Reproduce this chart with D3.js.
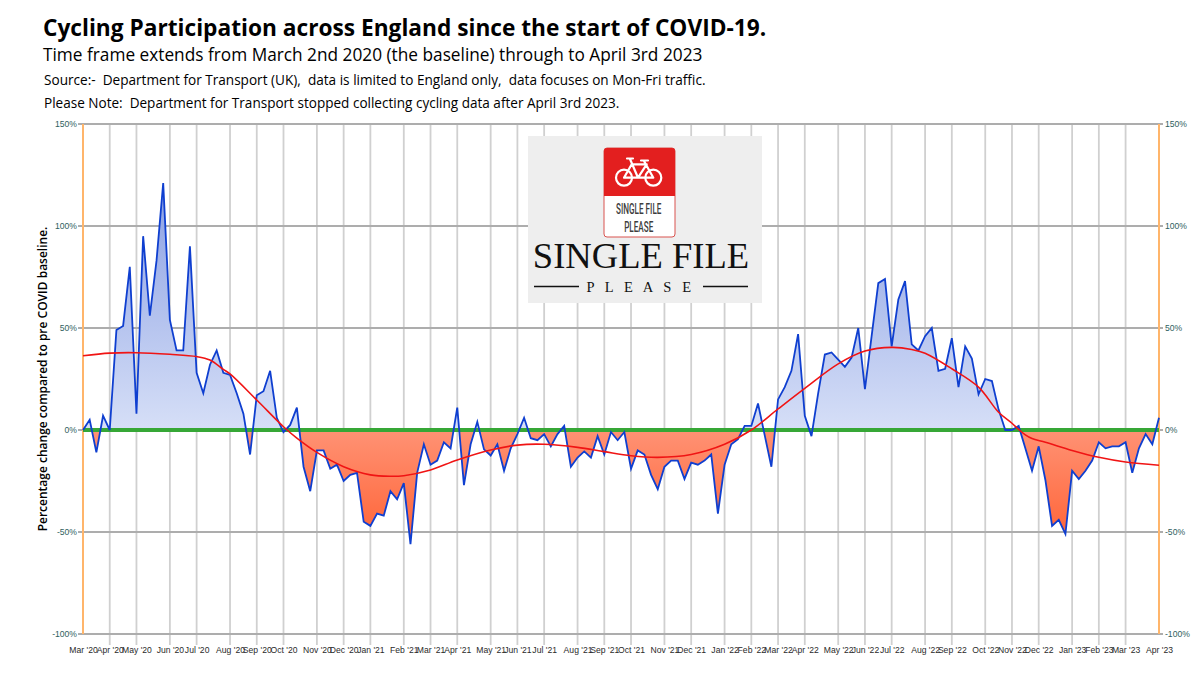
<!DOCTYPE html>
<html><head><meta charset="utf-8">
<script src="https://cdn.jsdelivr.net/npm/d3@7/dist/d3.min.js"></script>
<style>html,body{margin:0;padding:0;background:#fff}svg{display:block}</style>
</head><body><svg id="c" width="1200" height="675"></svg>
<script>
const weeklyChange = [0,5,-11,7,0,49,51,80,8,95,56,83,121,54,39,39,90,28,18,32,39,28,27,18,8,-12,17,19,29,6,-1,2.5,11,-18,-30,-10,-10,-19,-17,-25,-22,-21,-45,-47,-41,-42,-30,-34,-26,-56,-21,-7,-17,-15,-6,-9,11,-27,-7,4,-9.5,-12.5,-7,-20,-9,-2,6,-4,-5,-2,-8,-2,2,-18,-13.5,-10.5,-13.5,-3,-12,-1,-5,-1,-19,-10,-12,-22,-29,-18,-15,-15,-24,-16,-17,-15,-12,-41,-17,-7,-4.5,2,2,13,-2.5,-18,15,21,29,47,7,-3,18,37,38,34.5,31,35.5,50,20,46,72,74,41,64,73,42,39,46,50,29,30,45,21,41,35,17.5,25,24,10,0,0,2,-9,-20,-8,-24.5,-47,-44,-51,-20,-24,-20,-15,-6,-9,-8,-8,-6,-21,-9,-2,-7,6];
const trendWeeks = [0,4,8,13,17,19,21,22,26,30,32,35,39,43,46,48,52,56,61,65,69,74,78,82,86,91,96,100,104,108,113,117,121,124,126,130,134,137,139,140,141,142,144,148,152,156,161];
const trendValues = [36.4,37.7,37.9,37.1,36,34.3,29.7,27.5,14.7,1.6,-4,-11,-18,-22,-22.7,-22.4,-19.6,-14.7,-9.8,-7.4,-7,-8.5,-10.6,-12.6,-13.4,-12,-7,0,10.3,20.4,32.4,38.7,40.5,39.5,37.6,30,21,8.7,3.3,0.3,-2.4,-4.2,-6,-10,-13.4,-15.7,-17.3];
const monthLabels = ["Mar '20","Apr '20","May '20","Jun '20","Jul '20","Aug '20","Sep '20","Oct '20","Nov '20","Dec '20","Jan '21","Feb '21","Mar '21","Apr '21","May '21","Jun '21","Jul '21","Aug '21","Sep '21","Oct '21","Nov '21","Dec '21","Jan '22","Feb '22","Mar '22","Apr '22","May '22","Jun '22","Jul '22","Aug '22","Sep '22","Oct '22","Nov '22","Dec '22","Jan '23","Feb '23","Mar '23","Apr '23"];
const monthWeeks = [0,4,8,13,17,22,26,30,35,39,43,48,52,56,61,65,69,74,78,82,87,91,96,100,104,108,113,117,121,126,130,135,139,143,148,152,156,161];
const yTicks = [-100,-50,0,50,100,150];

const svg = d3.select("#c");
const x = d3.scaleLinear().domain([0,161]).range([83,1159]);
const y = d3.scaleLinear().domain([-100,150]).range([634,124]);
const defs = svg.append("defs");
function grad(id,a,b,stops){
  const g = defs.append("linearGradient").attr("id",id).attr("gradientUnits","userSpaceOnUse")
    .attr("x1",0).attr("x2",0).attr("y1",y(a)).attr("y2",y(b));
  stops.forEach((c,i)=>g.append("stop").attr("offset",i/(stops.length-1)).attr("stop-color",c));
}
grad("up",121,0,["#8ba0e3","#d6dff7"]);
grad("down",0,-56,["#ff9274","#ff6235"]);
defs.append("clipPath").attr("id","above").append("rect").attr("x",83).attr("width",1076).attr("y",124).attr("height",y(0)-124);
defs.append("clipPath").attr("id","below").append("rect").attr("x",83).attr("width",1076).attr("y",y(0)).attr("height",634-y(0));

const xAxis = d3.axisBottom(x).tickValues(monthWeeks).tickSize(0).tickPadding(0)
  .tickFormat((d,i)=>monthLabels[i]);
const gv = svg.append("g");
gv.selectAll("line").data(monthWeeks.slice(1,-1)).join("line")
  .attr("x1",d=>x(d)).attr("x2",d=>x(d)).attr("y1",124).attr("y2",645)
  .attr("stroke","#d0d0d0").attr("stroke-width",1.8);
const gh = svg.append("g");
gh.selectAll("line").data(yTicks).join("line")
  .attr("x1",78).attr("x2",1163).attr("y1",d=>y(d)).attr("y2",d=>y(d))
  .attr("stroke","#adadad").attr("stroke-width",1.8);

const area = d3.area().x((d,i)=>x(i)).y0(y(0)).y1(d=>y(d));
svg.append("path").datum(weeklyChange).attr("d",area).attr("fill","url(#up)").attr("clip-path","url(#above)");
svg.append("path").datum(weeklyChange).attr("d",area).attr("fill","url(#down)").attr("clip-path","url(#below)");

[83,1159].forEach(px=>svg.append("line").attr("x1",px).attr("x2",px).attr("y1",124).attr("y2",634)
  .attr("stroke","#ffb56b").attr("stroke-width",2));

svg.append("line").attr("x1",83).attr("x2",1159).attr("y1",y(0)).attr("y2",y(0))
  .attr("stroke","#36a736").attr("stroke-width",4);

svg.append("path").datum(weeklyChange)
  .attr("d",d3.line().x((d,i)=>x(i)).y(d=>y(d)))
  .attr("fill","none").attr("stroke","#0f3fd0").attr("stroke-width",1.8).attr("stroke-linejoin","miter");

svg.append("path").datum(trendValues)
  .attr("d",d3.line().x((d,i)=>x(trendWeeks[i])).y(d=>y(d)).curve(d3.curveCatmullRom))
  .attr("fill","none").attr("stroke","#f01414").attr("stroke-width",1.6);

const axisFont = "Liberation Sans, Arial, sans-serif";
const gx = svg.append("g").attr("transform","translate(0,647)").call(xAxis);
gx.select(".domain").remove();
gx.selectAll("text").attr("font-family",axisFont).attr("font-size",8.6).attr("fill","#2a2a2a").attr("dy","0.71em");
const fmt = d=>d+"%";
const gl = svg.append("g").attr("transform","translate(83,0)").call(d3.axisLeft(y).tickValues(yTicks).tickSize(0).tickPadding(6).tickFormat(fmt));
const gr = svg.append("g").attr("transform","translate(1159,0)").call(d3.axisRight(y).tickValues(yTicks).tickSize(0).tickPadding(6).tickFormat(fmt));
[gl,gr].forEach(g=>{g.select(".domain").remove();
  g.selectAll("text").attr("font-family",axisFont).attr("font-size",8.6).attr("fill","#2f6060");});

svg.append("text").attr("transform","translate(47,379) rotate(-90)").attr("text-anchor","middle")
  .attr("font-family","Open Sans, sans-serif").attr("font-weight",600).attr("font-size",12).attr("fill","#000")
  .text("Percentage change compared to pre COVID baseline.");

const head = "Open Sans, Noto Sans, sans-serif";
const T=(s,xx,yy,fs,w,ls)=>svg.append("text").attr("x",xx).attr("y",yy).attr("font-family",head)
  .attr("font-size",fs).attr("font-weight",w).attr("fill","#000").attr("letter-spacing",ls||0).style("white-space","pre").text(s);
T("Cycling Participation across England since the start of COVID-19.",43,36,22.7,700);
T("Time frame extends from March 2nd 2020 (the baseline) through to April 3rd 2023",43,61,17.25,400);
T("Source:-  Department for Transport (UK),  data is limited to England only,  data focuses on Mon-Fri traffic.",44,85,13.6,400);
T("Please Note:  Department for Transport stopped collecting cycling data after April 3rd 2023.",44,108,13.55,400);

// logo
const lg = svg.append("g");
lg.append("rect").attr("x",528).attr("y",136).attr("width",234).attr("height",167).attr("fill","#eeeeee");
lg.append("rect").attr("x",604).attr("y",148).attr("width",71).attr("height",89).attr("rx",3).attr("fill","#fff").attr("stroke","#d9534f").attr("stroke-width",1);
lg.append("path").attr("d","M604 196V151a3 3 0 0 1 3-3h65a3 3 0 0 1 3 3v45z").attr("fill","#e31f1f");
const bike = lg.append("g").attr("fill","none").attr("stroke","#fff").attr("stroke-width",2.2).attr("stroke-linecap","round").attr("stroke-linejoin","round");
bike.append("circle").attr("cx",624).attr("cy",177.7).attr("r",8);
bike.append("circle").attr("cx",653.3).attr("cy",177.7).attr("r",8);
bike.append("path").attr("d","M624 177.7L631.7 164.3H646.7L638 177.7H624M630 159L638 177.7H653.3L644 161M627 158.5h6M641 160.5h7");
const S=(t,xx,yy,fs,fam,ls,sx,w)=>lg.append("text").attr("text-anchor","middle")
  .attr("transform",`translate(${xx},${yy}) scale(${sx||1},1)`)
  .attr("font-family",fam).attr("font-size",fs).attr("font-weight",w||400).attr("letter-spacing",ls||0).attr("fill","#111").text(t);
S("SINGLE FILE",638.7,214,14.8,"Roboto, sans-serif",0,0.55,500).attr("fill","#3d3d3d");
S("PLEASE",638.7,231.5,14.8,"Roboto, sans-serif",0,0.55,500).attr("fill","#3d3d3d");
S("SINGLE FILE",641,268,36.6,"Liberation Serif, serif",0,1);
S("P L E A S E",640.5,292,14.5,"Liberation Serif, serif",3.6,1);
[[534,579],[703,748]].forEach(a=>lg.append("line").attr("x1",a[0]).attr("x2",a[1]).attr("y1",286.5).attr("y2",286.5).attr("stroke","#111").attr("stroke-width",1.5));
</script></body></html>
